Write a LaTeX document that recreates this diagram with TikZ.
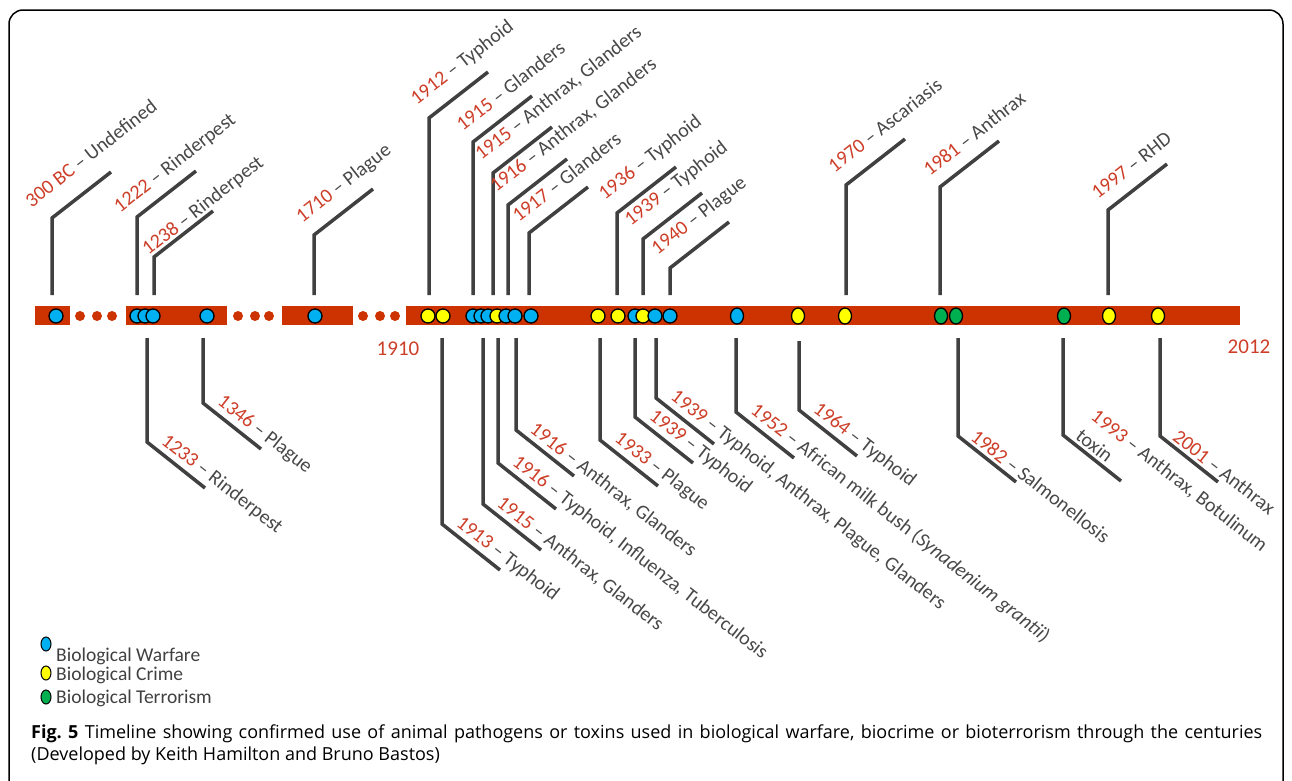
\documentclass[tikz,border=0pt]{standalone}
\usepackage{fontspec}
\setmainfont{Carlito}
\newfontfamily\capfont{Open Sans}
\usepackage{xcolor}
\usepackage{tikz}
\usetikzlibrary{shapes.geometric}

\definecolor{barred}{RGB}{204,51,0}
\definecolor{yearred}{RGB}{205,62,40}
\definecolor{stemgray}{RGB}{64,64,64}
\definecolor{labgray}{RGB}{72,72,72}
\definecolor{warblue}{RGB}{0,176,240}
\definecolor{crimeyellow}{RGB}{255,255,0}
\definecolor{terrgreen}{RGB}{0,176,80}
\newcommand{\labfont}{\fontsize{20}{25}\selectfont}

\begin{document}
\frenchspacing
\begin{tikzpicture}[x=1pt, y=-1pt,
    stem/.style={stemgray, line width=3.5pt},
    uplab/.style={anchor=south west, rotate=38, inner sep=1pt, font=\labfont, text=labgray},
    downlab/.style={anchor=south west, rotate=-38, inner sep=1pt, font=\labfont, text=labgray, align=left},
    gapdot/.style={circle, fill=barred, inner sep=0pt, minimum size=10pt},
    ev/.style={circle, draw=black, line width=1.3pt, inner sep=0pt, minimum size=14pt},
    tall/.style={ellipse, minimum width=13pt, minimum height=16pt},
    evb/.style={ev, fill=warblue},
    evy/.style={ev, fill=crimeyellow},
    evg/.style={ev, fill=terrgreen},
    key/.style={ellipse, draw=black, line width=1pt, inner sep=0pt, minimum width=10pt, minimum height=14pt},
    keytxt/.style={anchor=west, inner sep=0pt, font=\fontsize{19.5}{22}\selectfont, text=stemgray},
    captxt/.style={anchor=west, inner sep=0pt, font=\capfont\fontsize{18}{22}\selectfont},
    endyear/.style={font=\fontsize{21}{24}\selectfont, text=yearred}
  ]
  \useasboundingbox (0,0) rectangle (1292,780);
  \draw[line width=1.5pt, rounded corners=14pt] (9,782) -- (9,10) -- (1283,10) -- (1283,782);

  % the broken bar
  \fill[barred] (35,306) rectangle (70,325);
  \fill[barred] (126,306) rectangle (227,325);
  \fill[barred] (282,306) rectangle (353,325);
  \fill[barred] (406,306) rectangle (1240,325);
  \foreach \x in {80,97,112,238,255,269,363,380,395}
    \node[gapdot] (gap\x) at (\x,316) {};

  \node[endyear] (y1910) at (398,349) {1910};
  \node[endyear] (y2012) at (1249,347) {2012};

  % events above the bar
  \foreach \x/\yb/\sa/\sp/\yr/\what in {
      52/218/-11/19/300 BC/Undefined,
      137/217/-12/9/1222/Rinderpest,
      154/257/-5/0/1238/Rinderpest,
      314/235/-3/12/1710/Plague,
      429/118/-3/13/1912/Typhoid,
      473/142/-3/13/1915/Glanders,
      493/173/-3/13/1915/{Anthrax, Glanders},
      508/205/-3/13/1916/{Anthrax, Glanders},
      529/233/-3/13/1917/Glanders,
      617/213/-3/13/1936/Typhoid,
      643/239/-3/13/1939/Typhoid,
      670/268/-3/13/1940/Plague,
      846/185/-3/15/1970/Ascariasis,
      940/187/-3/13/1981/Anthrax,
      1108/210/-3/13/1997/RHD}
  {
    \draw[stem] (\x,295) -- (\x,\yb) -- ++(59,-46);
    \node[uplab, xshift=\sa pt, yshift=\sp pt] (up\x) at (\x,\yb)
      {\textcolor{yearred}{\yr} – \what};
  }

  % events below the bar
  \foreach \x/\yt/\yb/\yr/\what in {
      147/338/442/1233/Rinderpest,
      203/338/403/1346/Plague,
      442/338/524/1913/Typhoid,
      483/338/504/1915/{Anthrax, Glanders},
      498/338/463/1916/{Typhoid, Influenza, Tuberculosis},
      516/338/430/1916/{Anthrax, Glanders},
      600/338/440/1933/Plague,
      635/338/417/1939/Typhoid,
      656/338/398/1939/{Typhoid, Anthrax, Plague, Glanders},
      736/338/412/1952/{African milk bush (\textit{Synadenium grantii})},
      799/341/410/1964/Typhoid,
      958/338/436/1982/Salmonellosis,
      1063/338/435/1993/{Anthrax, Botulinum\\toxin},
      1160/338/436/2001/Anthrax}
  {
    \draw[stem] (\x,\yt) -- (\x,\yb) -- ++(58,46);
    \node[downlab, xshift=10pt, yshift=3pt] (dn\x) at (\x,\yb)
      {\textcolor{yearred}{\yr} – \what};
  }

  % markers on the bar
  \foreach \x/\kind in {56/evb, 137/evb, 145/evb, 153/evb, 207/evb, 315/evb,
      428/evy, 443/evy, 473/evb, 481/evb, 488/evb, 497/evy, 506/evb, 515/evb, 531/evb,
      598/evy, 618/evy, 635/evb, 643/evy, 655/evb, 670/evb}
    \node[\kind] (m\x) at (\x,316) {};
  \foreach \x/\kind in {737/evb, 798/evy, 845/evy, 941/evg, 956/evg, 1064/evg, 1109/evy, 1158/evy}
    \node[\kind, tall] (m\x) at (\x,316) {};

  % legend
  \node[key, fill=warblue] (kwar) at (46,644) {};
  \node[key, fill=crimeyellow] (kcri) at (46,673) {};
  \node[key, fill=terrgreen] (kter) at (46,697) {};
  \node[keytxt] (twar) at (56,656) {Biological Warfare};
  \node[keytxt] (tcri) at (56,675) {Biological Crime};
  \node[keytxt] (tter) at (56,698) {Biological Terrorism};

  % caption
  \node[captxt] (cap1) at (31,734)
    {\makebox[1231pt][s]{\textbf{Fig. 5} Timeline showing confirmed use of animal pathogens or toxins used in biological warfare, biocrime or bioterrorism through the centuries}};
  \node[captxt] (cap2) at (31,756)
    {(Developed by Keith Hamilton and Bruno Bastos)};
\end{tikzpicture}
\end{document}
